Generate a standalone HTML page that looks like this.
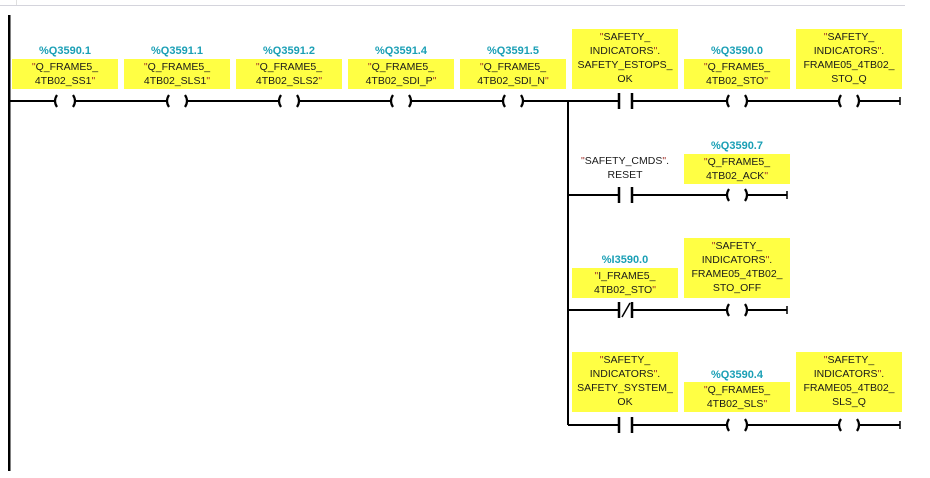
<!DOCTYPE html>
<html><head><meta charset="utf-8"><style>
html,body{margin:0;padding:0;background:#fff;width:930px;height:478px;overflow:hidden}
svg{display:block}
text{font-family:"Liberation Sans","DejaVu Sans",sans-serif;font-size:10.5px;fill:#1a1a1a;text-anchor:middle}
.a{fill:#1a9fb5;font-weight:bold;font-size:11px}
.q{fill:#a0302a}
</style></head><body>
<svg width="930" height="478" viewBox="0 0 930 478">
<line x1="0" y1="5.5" x2="905" y2="5.5" stroke="#d4d4dc" stroke-width="1"/>
<line x1="16.5" y1="0" x2="16.5" y2="5" stroke="#e0e0e0"/>
<rect x="8" y="15" width="2.5" height="456" fill="#000"/>
<g fill="#ffff44">
<rect x="12" y="59" width="106" height="30"/><rect x="124" y="59" width="106" height="30"/>
<rect x="236" y="59" width="106" height="30"/><rect x="348" y="59" width="106" height="30"/>
<rect x="460" y="59" width="106" height="30"/><rect x="572" y="29" width="106" height="60"/>
<rect x="684" y="59" width="106" height="30"/><rect x="796" y="29" width="106" height="60"/>
<rect x="684" y="154" width="106" height="30"/>
<rect x="572" y="268" width="106" height="30"/><rect x="684" y="238" width="106" height="60"/>
<rect x="572" y="352" width="106" height="60"/><rect x="684" y="382" width="106" height="30"/><rect x="796" y="352" width="106" height="60"/>
</g>
<g stroke="#000" stroke-width="2" fill="none">
<line x1="9" y1="101" x2="900" y2="101"/>
<line x1="568" y1="101" x2="568" y2="425"/>
<line x1="568" y1="195" x2="787" y2="195"/>
<line x1="568" y1="310" x2="787" y2="310"/>
<line x1="568" y1="425" x2="900" y2="425"/>
</g>
<g stroke="#000" stroke-width="1.5">
<line x1="900" y1="97" x2="900" y2="105"/><line x1="787" y1="191" x2="787" y2="199"/>
<line x1="787" y1="306" x2="787" y2="314"/><line x1="900" y1="421" x2="900" y2="429"/>
</g>
<g fill="#fff"><rect x="620" y="92" width="11" height="18"/><rect x="620" y="186" width="11" height="18"/><rect x="620" y="301" width="11" height="18"/><rect x="620" y="416" width="11" height="18"/></g>
<g stroke="#000" stroke-width="2.5">
<line x1="619" y1="93" x2="619" y2="109"/><line x1="632" y1="93" x2="632" y2="109"/>
<line x1="619" y1="187" x2="619" y2="203"/><line x1="632" y1="187" x2="632" y2="203"/>
<line x1="619" y1="302" x2="619" y2="318"/><line x1="632" y1="302" x2="632" y2="318"/>
<line x1="619" y1="417" x2="619" y2="433"/><line x1="632" y1="417" x2="632" y2="433"/>
</g>
<line x1="622" y1="317" x2="630" y2="303" stroke="#000" stroke-width="1.5"/>
<defs><g id="c"><rect x="-11" y="-8" width="22" height="16" fill="#fff"/><path d="M-8,-6 Q-12,0 -8,6 M8,-6 Q12,0 8,6" stroke="#000" stroke-width="2.2" fill="none"/></g></defs>
<use href="#c" x="65" y="101"/><use href="#c" x="177" y="101"/><use href="#c" x="289" y="101"/><use href="#c" x="401" y="101"/><use href="#c" x="513" y="101"/><use href="#c" x="737" y="101"/><use href="#c" x="849" y="101"/>
<use href="#c" x="737" y="195"/><use href="#c" x="737" y="310"/><use href="#c" x="737" y="425"/><use href="#c" x="849" y="425"/>
<text class="a" x="65" y="54">%Q3590.1</text><text x="65" y="70"><tspan class="q">"</tspan>Q_FRAME5_</text><text x="65" y="84">4TB02_SS1<tspan class="q">"</tspan></text>
<text class="a" x="177" y="54">%Q3591.1</text><text x="177" y="70"><tspan class="q">"</tspan>Q_FRAME5_</text><text x="177" y="84">4TB02_SLS1<tspan class="q">"</tspan></text>
<text class="a" x="289" y="54">%Q3591.2</text><text x="289" y="70"><tspan class="q">"</tspan>Q_FRAME5_</text><text x="289" y="84">4TB02_SLS2<tspan class="q">"</tspan></text>
<text class="a" x="401" y="54">%Q3591.4</text><text x="401" y="70"><tspan class="q">"</tspan>Q_FRAME5_</text><text x="401" y="84">4TB02_SDI_P<tspan class="q">"</tspan></text>
<text class="a" x="513" y="54">%Q3591.5</text><text x="513" y="70"><tspan class="q">"</tspan>Q_FRAME5_</text><text x="513" y="84">4TB02_SDI_N<tspan class="q">"</tspan></text>
<text x="625" y="40"><tspan class="q">"</tspan>SAFETY_</text><text x="625" y="54">INDICATORS<tspan class="q">"</tspan>.</text><text x="625" y="68">SAFETY_ESTOPS_</text><text x="625" y="82">OK</text>
<text class="a" x="737" y="54">%Q3590.0</text><text x="737" y="70"><tspan class="q">"</tspan>Q_FRAME5_</text><text x="737" y="84">4TB02_STO<tspan class="q">"</tspan></text>
<text x="849" y="40"><tspan class="q">"</tspan>SAFETY_</text><text x="849" y="54">INDICATORS<tspan class="q">"</tspan>.</text><text x="849" y="68">FRAME05_4TB02_</text><text x="849" y="82">STO_Q</text>
<text x="625" y="164"><tspan class="q">"</tspan>SAFETY_CMDS<tspan class="q">"</tspan>.</text><text x="625" y="178">RESET</text>
<text class="a" x="737" y="149">%Q3590.7</text><text x="737" y="165"><tspan class="q">"</tspan>Q_FRAME5_</text><text x="737" y="179">4TB02_ACK<tspan class="q">"</tspan></text>
<text class="a" x="625" y="263">%I3590.0</text><text x="625" y="279"><tspan class="q">"</tspan>I_FRAME5_</text><text x="625" y="293">4TB02_STO<tspan class="q">"</tspan></text>
<text x="737" y="249"><tspan class="q">"</tspan>SAFETY_</text><text x="737" y="263">INDICATORS<tspan class="q">"</tspan>.</text><text x="737" y="277">FRAME05_4TB02_</text><text x="737" y="291">STO_OFF</text>
<text x="625" y="363"><tspan class="q">"</tspan>SAFETY_</text><text x="625" y="377">INDICATORS<tspan class="q">"</tspan>.</text><text x="625" y="391">SAFETY_SYSTEM_</text><text x="625" y="405">OK</text>
<text class="a" x="737" y="378">%Q3590.4</text><text x="737" y="393"><tspan class="q">"</tspan>Q_FRAME5_</text><text x="737" y="407">4TB02_SLS<tspan class="q">"</tspan></text>
<text x="849" y="363"><tspan class="q">"</tspan>SAFETY_</text><text x="849" y="377">INDICATORS<tspan class="q">"</tspan>.</text><text x="849" y="391">FRAME05_4TB02_</text><text x="849" y="405">SLS_Q</text>
</svg>
</body></html>
